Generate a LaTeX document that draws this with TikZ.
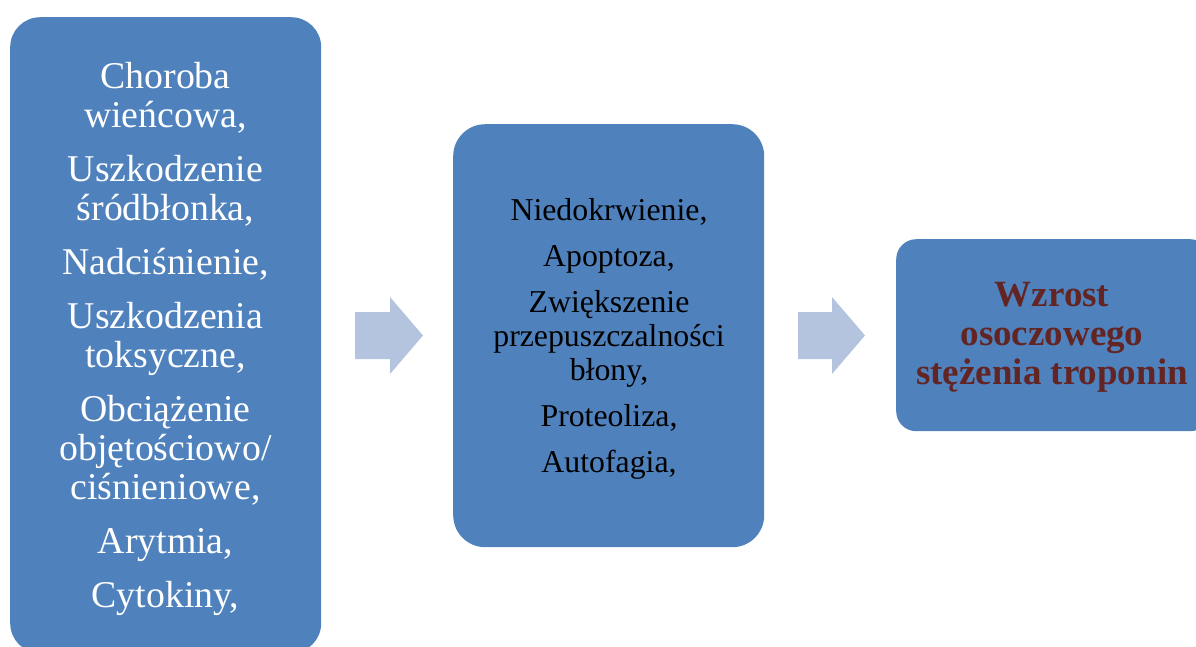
\documentclass[tikz,border=0pt]{standalone}
\usepackage{fontspec}
\setmainfont{Liberation Serif}
\definecolor{boxblue}{RGB}{79,129,189}
\definecolor{arrowblue}{RGB}{180,196,223}
\definecolor{darkred}{RGB}{99,37,35}
\newcommand\mytightlines{\lineskiplimit=-100pt\relax}
\newcommand\myleftfont{\fontsize{37.8}{39}\selectfont\mytightlines}
\newcommand\mymidfont{\fontsize{31.8}{34}\selectfont\mytightlines}
\newcommand\myrightfont{\bfseries\fontsize{37}{39}\selectfont\mytightlines}
\tikzset{
  boxshape/.style={draw=none, fill=boxblue, inner sep=0pt, anchor=north west},
  blockarrow/.style={fill=arrowblue, draw=none},
  lefttext/.style={text=white, align=center, inner sep=0pt, anchor=north, font=\myleftfont},
  midtext/.style={text=black, align=center, inner sep=0pt, anchor=north, font=\mymidfont},
  righttext/.style={text=darkred, align=center, inner sep=0pt, anchor=north, font=\myrightfont}
}
\begin{document}
\begin{tikzpicture}[x=1pt,y=-1pt]
\clip (0,0) rectangle (1196,646);
\fill[white] (0,0) rectangle (1196,646);
% boxes
\node[boxshape, rounded corners=30pt, minimum width=311pt, minimum height=636pt] (L) at (10,17) {};
\node[boxshape, rounded corners=32pt, minimum width=311pt, minimum height=423pt] (M) at (453,124) {};
\node[boxshape, rounded corners=20pt, minimum width=314pt, minimum height=192pt] (R) at (896,239) {};
% block arrows
\fill[blockarrow] (355,312) -- (390,312) -- (390,297) -- (423,335.5) -- (390,374) -- (390,359) -- (355,359) -- cycle;
\fill[blockarrow] (798,312) -- (832,312) -- (832,297) -- (865,335.5) -- (832,374) -- (832,359) -- (798,359) -- cycle;
% texts
\node[lefttext] (Lt) at (165.5,62.2) {Choroba\\wieńcowa,\\[15pt]Uszkodzenie\\śródbłonka,\\[15pt]Nadciśnienie,\\[15pt]Uszkodzenia\\toksyczne,\\[15pt]Obciążenie\\objętościowo/\\ciśnieniowe,\\[15pt]Arytmia,\\[15pt]Cytokiny,};
\node[midtext] (Mt) at (609,198.3) {Niedokrwienie,\\[12pt]Apoptoza,\\[12pt]Zwiększenie\\przepuszczalności\\błony,\\[12pt]Proteoliza,\\[12pt]Autofagia,};
\node[righttext] (Rt) at (1052,282) {Wzrost\\osoczowego\\stężenia troponin};
\end{tikzpicture}
\end{document}
